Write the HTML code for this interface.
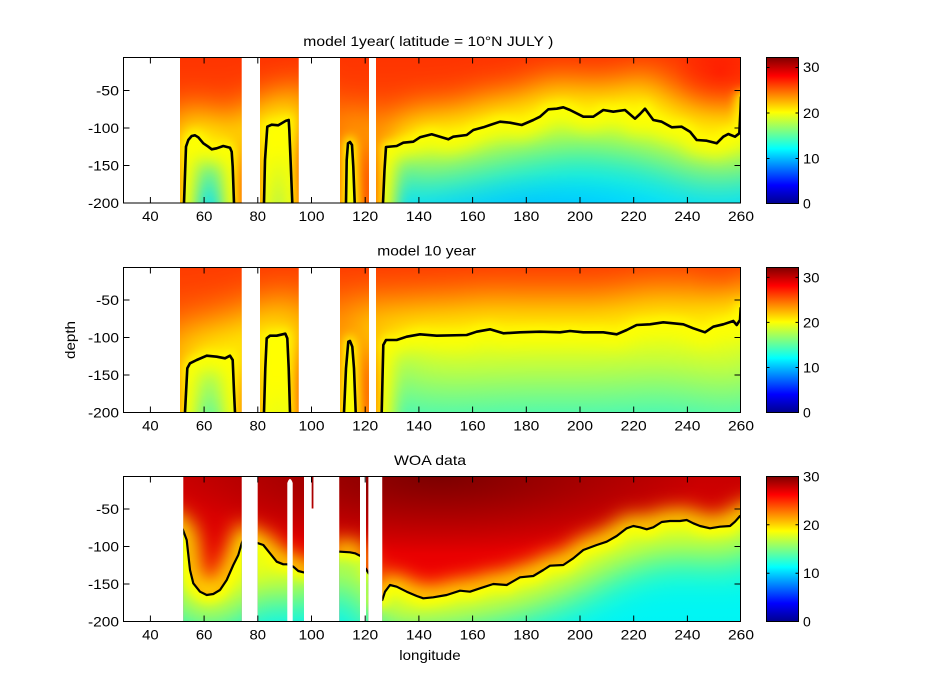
<!DOCTYPE html>
<html><head><meta charset="utf-8"><style>html,body{margin:0;padding:0;background:#fff}svg{display:block}</style></head>
<body>
<svg width="949" height="698" viewBox="0 0 949 698" xmlns="http://www.w3.org/2000/svg" xmlns:xlink="http://www.w3.org/1999/xlink" font-family="'Liberation Sans', Arial, sans-serif" font-size="14">
<defs>
<filter id="b5" filterUnits="userSpaceOnUse" x="0" y="0" width="949" height="698"><feGaussianBlur stdDeviation="5"/></filter>
<filter id="b8" filterUnits="userSpaceOnUse" x="0" y="0" width="949" height="698"><feGaussianBlur stdDeviation="8"/></filter>
<filter id="b10" filterUnits="userSpaceOnUse" x="0" y="0" width="949" height="698"><feGaussianBlur stdDeviation="10"/></filter>
<filter id="b18" filterUnits="userSpaceOnUse" x="0" y="0" width="949" height="698"><feGaussianBlur stdDeviation="18"/></filter>
<filter id="b22" filterUnits="userSpaceOnUse" x="0" y="0" width="949" height="698"><feGaussianBlur stdDeviation="22"/></filter>
<filter id="b25" filterUnits="userSpaceOnUse" x="0" y="0" width="949" height="698"><feGaussianBlur stdDeviation="25"/></filter>
<filter id="b35" filterUnits="userSpaceOnUse" x="0" y="0" width="949" height="698"><feGaussianBlur stdDeviation="35"/></filter>

<linearGradient id="jet" x1="0" y1="1" x2="0" y2="0">
<stop offset="0" stop-color="#00008f"/><stop offset="0.125" stop-color="#0000ff"/><stop offset="0.375" stop-color="#00ffff"/><stop offset="0.625" stop-color="#ffff00"/><stop offset="0.875" stop-color="#ff0000"/><stop offset="1" stop-color="#800000"/>
</linearGradient>
<linearGradient id="w1" gradientUnits="userSpaceOnUse" x1="0" y1="57.5" x2="0" y2="203"><stop offset="0" stop-color="#ff3400"/><stop offset="1" stop-color="#ff5a00"/></linearGradient>
<linearGradient id="w2" gradientUnits="userSpaceOnUse" x1="0" y1="267.5" x2="0" y2="412.5"><stop offset="0" stop-color="#ff3c00"/><stop offset="1" stop-color="#ff6e00"/></linearGradient>
<linearGradient id="w3" gradientUnits="userSpaceOnUse" x1="0" y1="476.5" x2="0" y2="621.5"><stop offset="0" stop-color="#c80000"/><stop offset="0.4" stop-color="#e00000"/><stop offset="0.75" stop-color="#f50000"/><stop offset="1" stop-color="#ff2000"/></linearGradient>
<linearGradient id="c1" gradientUnits="userSpaceOnUse" x1="0" y1="100" x2="0" y2="203"><stop offset="0" stop-color="#00ffdc"/><stop offset="1" stop-color="#00e0ff"/></linearGradient>
<linearGradient id="c2" gradientUnits="userSpaceOnUse" x1="0" y1="320" x2="0" y2="412.5"><stop offset="0" stop-color="#3cffc3"/><stop offset="1" stop-color="#30f8d0"/></linearGradient>
<linearGradient id="c3" gradientUnits="userSpaceOnUse" x1="0" y1="510" x2="0" y2="621.5"><stop offset="0" stop-color="#00ffe6"/><stop offset="1" stop-color="#00f5f5"/></linearGradient>
<radialGradient id="dk" gradientUnits="userSpaceOnUse" cx="440" cy="476" r="260" gradientTransform="translate(440 476) scale(1 0.3) translate(-440 -476)"><stop offset="0" stop-color="#6e0000" stop-opacity="0.85"/><stop offset="1" stop-color="#6e0000" stop-opacity="0"/></radialGradient>
<radialGradient id="bl" gradientUnits="userSpaceOnUse" cx="540" cy="212" r="130" gradientTransform="translate(540 212) scale(1 0.3) translate(-540 -212)"><stop offset="0" stop-color="#0090ff" stop-opacity="0.35"/><stop offset="1" stop-color="#0090ff" stop-opacity="0"/></radialGradient>
<radialGradient id="rs1" gradientUnits="userSpaceOnUse" cx="720" cy="72" r="45"><stop offset="0" stop-color="#ff0c00" stop-opacity="0.6"/><stop offset="1" stop-color="#ff0c00" stop-opacity="0"/></radialGradient>
<radialGradient id="rs2" gradientUnits="userSpaceOnUse" cx="725" cy="282" r="35"><stop offset="0" stop-color="#ff1400" stop-opacity="0.5"/><stop offset="1" stop-color="#ff1400" stop-opacity="0"/></radialGradient>

<clipPath id="cp1"><rect x="180" y="57.5" width="61.7" height="145.5"/><rect x="260" y="57.5" width="38.7" height="145.5"/><rect x="340" y="57.5" width="29" height="145.5"/><rect x="376" y="57.5" width="365" height="145.5"/></clipPath>
<clipPath id="cp2"><rect x="180" y="267.5" width="61.7" height="145"/><rect x="260" y="267.5" width="38.7" height="145"/><rect x="340" y="267.5" width="29" height="145"/><rect x="376" y="267.5" width="365" height="145"/></clipPath>
<clipPath id="cp3"><rect x="183.3" y="476.5" width="58.4" height="145"/><rect x="257.7" y="476.5" width="46.3" height="145"/><rect x="311.7" y="476.5" width="1.7" height="32"/><rect x="339.3" y="476.5" width="20.7" height="145"/><rect x="366" y="476.5" width="2.3" height="145"/><rect x="382.3" y="476.5" width="358.7" height="145"/></clipPath>

<clipPath id="cc1">
<polygon points="184,203 186,146.7 188.3,140 191.7,136 195,135.3 198.3,137.3 203.3,143.3 208.3,146.7 211.7,149.3 216.7,148.3 223.3,146 230,147.7 231.7,151.7 232.7,166.7 234,203"/>
<polygon points="264,203 265,160 267.3,126.7 271.7,124.7 278.3,125.3 281.7,123.3 286,120.7 288.7,120 289.3,130 290.7,163.3 292.3,203"/>
<polygon points="346,203 346.7,160 348,143.3 350,142 352,145 353.3,166.7 354.7,203"/>
<polygon points="383,203 384.5,170 386,147 396.7,146 403.3,142.7 413.3,141.7 420,137.3 431.7,134.3 440,136.7 448.3,139.3 453.3,136.7 466.7,135 473.3,130 483.3,127.3 490,125 500,121.7 510,122.7 521.7,125 533.3,120 540,116.7 548.3,109.3 556.7,108.7 563.3,107.3 570,110 583.3,116.7 593.3,116.7 603.3,110 613.3,111.7 625,110 635,118.7 640,114 645,108.7 653.3,120 661.7,121.7 671.7,127.3 681.7,126.7 690,131.7 696.7,140 706.7,140.7 716.7,143.3 723.3,136.7 728.3,134 735,136.7 739.3,133.3 740.5,110 741,97 742,97 742,203"/>
</clipPath>
<clipPath id="cc2">
<polygon points="185,412.5 187.3,368.3 190,363.3 196.7,360 206.7,355.7 216.7,356.7 225,358.3 230,355.7 232.7,360 234,391.7 235,412.5"/>
<polygon points="264,412.5 265.3,368.3 266.7,338.3 270,335.7 276.7,335.7 285.3,333.7 287.3,338.3 288.7,368.3 290,412.5"/>
<polygon points="344,412.5 346,368.3 348.3,341.7 350,341 352.3,346.7 354,368.3 355.7,412.5"/>
<polygon points="381.7,412.5 383.3,345 386,340 396.7,340 406.7,336.7 420,334.3 436.7,335.7 466.7,335 476.7,331.7 490,329.3 503.3,333.3 520,332.3 540,331.7 560,332.3 570,331 583.3,332.3 603.3,332.3 616.7,334.3 626.7,330 636.7,325 650,324.3 663.3,322.3 683.3,324.3 693.3,328.3 705,332.3 713.3,326.7 723.3,324.3 733.3,321 736.7,325 740,320 740.7,308 742,308 742,412.5"/>
</clipPath>
<clipPath id="cc3">
<polygon points="182,529.3 182.7,529.3 186.7,540 190,570 193.3,583.3 200,591.7 206.7,595 213.3,594 220,590 226.7,580 233.3,565 238.3,555 241.7,543.3 243,543.3 243,622 182,622"/>
<polygon points="257,543.3 258.3,543.3 263.3,545 270,553.3 276.7,561.7 283.3,564.3 287.3,564.3 293.3,566.7 298.3,571 303.3,572.3 305,572.3 305,622 257,622"/>
<polygon points="339,551.7 340,551.7 350,552.3 355,553.3 360,555.7 361,556 361,622 339,622"/>
<polygon points="365,569 366,569 368,572.3 369,572.3 369,622 365,622"/>
<polygon points="381.5,600 382.3,600 385,591.7 390,585 396.7,586.7 406.7,591.7 416.7,596 423.3,598.3 433.3,597.3 446.7,595 460,590.7 470,591.7 480,588.3 493.3,584 506.7,585 520,577.3 533.3,576 543.3,570 550,565.7 563.3,565 573.3,558.3 583.3,550 596.7,545 606.7,541.7 616.7,536 626.7,528.3 633.3,526 640,527.3 646.7,529.3 653.3,527.3 661.7,522 670,521 680,521 686.7,520 693.3,523.3 700,526 710,528.3 720,526.7 730,526 735,521.7 740,516 742,514 742,622 381.5,622"/>
</clipPath>

<path id="k1" d="M184,260 L184,203 186,146.7 188.3,140 191.7,136 195,135.3 198.3,137.3 203.3,143.3 208.3,146.7 211.7,149.3 216.7,148.3 223.3,146 230,147.7 231.7,151.7 232.7,166.7 234,203 235,260 M264,260 L264,203 265,160 267.3,126.7 271.7,124.7 278.3,125.3 281.7,123.3 286,120.7 288.7,120 289.3,130 290.7,163.3 292.3,203 293,260 M346,260 L346,203 346.7,160 348,143.3 350,142 352,145 353.3,166.7 354.7,203 355,260 M383,260 L383,203 384.5,170 386,147 396.7,146 403.3,142.7 413.3,141.7 420,137.3 431.7,134.3 440,136.7 448.3,139.3 453.3,136.7 466.7,135 473.3,130 483.3,127.3 490,125 500,121.7 510,122.7 521.7,125 533.3,120 540,116.7 548.3,109.3 556.7,108.7 563.3,107.3 570,110 583.3,116.7 593.3,116.7 603.3,110 613.3,111.7 625,110 635,118.7 640,114 645,108.7 653.3,120 661.7,121.7 671.7,127.3 681.7,126.7 690,131.7 696.7,140 706.7,140.7 716.7,143.3 723.3,136.7 728.3,134 735,136.7 739.3,133.3 740.5,110 741,97 760,95"/>
<path id="k1t" d="M186,150 L186,146.7 188.3,140 191.7,136 195,135.3 198.3,137.3 203.3,143.3 208.3,146.7 211.7,149.3 216.7,148.3 223.3,146 230,147.7 231.7,151.7 M265.5,150 L267.3,126.7 271.7,124.7 278.3,125.3 281.7,123.3 286,120.7 288.7,120 289.3,130 M348,143.3 L350,142 352,145 M386,147 L396.7,146 403.3,142.7 413.3,141.7 420,137.3 431.7,134.3 440,136.7 448.3,139.3 453.3,136.7 466.7,135 473.3,130 483.3,127.3 490,125 500,121.7 510,122.7 521.7,125 533.3,120 540,116.7 548.3,109.3 556.7,108.7 563.3,107.3 570,110 583.3,116.7 593.3,116.7 603.3,110 613.3,111.7 625,110 635,118.7 640,114 645,108.7 653.3,120 661.7,121.7 671.7,127.3 681.7,126.7 690,131.7 696.7,140 706.7,140.7 716.7,143.3 723.3,136.7 728.3,134 735,136.7 739.3,133.3 790,133"/>
<path id="k2" d="M185,470 L185,412.5 187.3,368.3 190,363.3 196.7,360 206.7,355.7 216.7,356.7 225,358.3 230,355.7 232.7,360 234,391.7 235,412.5 235,470 M264,470 L264,412.5 265.3,368.3 266.7,338.3 270,335.7 276.7,335.7 285.3,333.7 287.3,338.3 288.7,368.3 290,412.5 290,470 M344,470 L344,412.5 346,368.3 348.3,341.7 350,341 352.3,346.7 354,368.3 355.7,412.5 356,470 M381.7,470 L381.7,412.5 383.3,345 386,340 396.7,340 406.7,336.7 420,334.3 436.7,335.7 466.7,335 476.7,331.7 490,329.3 503.3,333.3 520,332.3 540,331.7 560,332.3 570,331 583.3,332.3 603.3,332.3 616.7,334.3 626.7,330 636.7,325 650,324.3 663.3,322.3 683.3,324.3 693.3,328.3 705,332.3 713.3,326.7 723.3,324.3 733.3,321 736.7,325 740,320 740.7,308 760,306"/>
<path id="k2t" d="M187.3,372 L187.3,368.3 190,363.3 196.7,360 206.7,355.7 216.7,356.7 225,358.3 230,355.7 232.7,360 233.5,375 M266,350 L266.7,338.3 270,335.7 276.7,335.7 285.3,333.7 287.3,338.3 288,350 M348.3,341.7 L350,341 352.3,346.7 M383.3,345 L386,340 396.7,340 406.7,336.7 420,334.3 436.7,335.7 466.7,335 476.7,331.7 490,329.3 503.3,333.3 520,332.3 540,331.7 560,332.3 570,331 583.3,332.3 603.3,332.3 616.7,334.3 626.7,330 636.7,325 650,324.3 663.3,322.3 683.3,324.3 693.3,328.3 705,332.3 713.3,326.7 723.3,324.3 733.3,321 736.7,325 740,320 790,318"/>
<path id="k3" d="M160,515 L182.7,529.3 186.7,540 190,570 193.3,583.3 200,591.7 206.7,595 213.3,594 220,590 226.7,580 233.3,565 238.3,555 241.7,543.3 248,528 M250,541 L258.3,543.3 263.3,545 270,553.3 276.7,561.7 283.3,564.3 287.3,564.3 293.3,566.7 298.3,571 303.3,572.3 320,575 M330,551.5 L340,551.7 350,552.3 355,553.3 360,555.7 364,558 M365,568 L366,569 368,572.3 369,574 M370,602 L382.3,600 385,591.7 390,585 396.7,586.7 406.7,591.7 416.7,596 423.3,598.3 433.3,597.3 446.7,595 460,590.7 470,591.7 480,588.3 493.3,584 506.7,585 520,577.3 533.3,576 543.3,570 550,565.7 563.3,565 573.3,558.3 583.3,550 596.7,545 606.7,541.7 616.7,536 626.7,528.3 633.3,526 640,527.3 646.7,529.3 653.3,527.3 661.7,522 670,521 680,521 686.7,520 693.3,523.3 700,526 710,528.3 720,526.7 730,526 735,521.7 740,516 780,505"/>
</defs>

<rect width="949" height="698" fill="#fff"/>

<!-- Panel 1 -->
<g clip-path="url(#cp1)">
<rect x="123.5" y="57.5" width="617.5" height="145.5" fill="url(#w1)"/>
<rect x="123.5" y="57.5" width="617.5" height="145.5" fill="url(#rs1)"/>
<use xlink:href="#k1t" href="#k1t" fill="none" stroke="#ffff00" stroke-width="50" filter="url(#b18)"/>
<use xlink:href="#k1" href="#k1" fill="none" stroke="#ffff00" stroke-width="10" filter="url(#b5)"/>
<g clip-path="url(#cc1)">
<rect x="123.5" y="57.5" width="618" height="146" fill="url(#c1)"/>
<rect x="123.5" y="57.5" width="618" height="146" fill="url(#bl)"/>
<use xlink:href="#k1t" href="#k1t" fill="none" stroke="#ffff00" stroke-width="60" filter="url(#b25)"/>
<use xlink:href="#k1" href="#k1" fill="none" stroke="#ffff00" stroke-width="24" filter="url(#b8)"/>
</g>
<use xlink:href="#k1" href="#k1" fill="none" stroke="#000" stroke-width="2.6" stroke-linejoin="round"/>
</g>

<!-- Panel 2 -->
<g clip-path="url(#cp2)">
<rect x="123.5" y="267.5" width="617.5" height="145" fill="url(#w2)"/>
<rect x="123.5" y="267.5" width="617.5" height="145" fill="url(#rs2)"/>
<use xlink:href="#k2t" href="#k2t" fill="none" stroke="#ffff00" stroke-width="60" filter="url(#b22)"/>
<use xlink:href="#k2" href="#k2" fill="none" stroke="#ffff00" stroke-width="10" filter="url(#b5)"/>
<g clip-path="url(#cc2)">
<rect x="123.5" y="267.5" width="618" height="146" fill="url(#c2)"/>
<use xlink:href="#k2t" href="#k2t" fill="none" stroke="#ffff00" stroke-width="100" filter="url(#b35)"/>
<use xlink:href="#k2" href="#k2" fill="none" stroke="#ffff00" stroke-width="24" filter="url(#b8)"/>
</g>
<use xlink:href="#k2" href="#k2" fill="none" stroke="#000" stroke-width="2.6" stroke-linejoin="round"/>
</g>

<!-- Panel 3 -->
<g clip-path="url(#cp3)">
<rect x="123.5" y="476.5" width="617.5" height="145" fill="url(#w3)"/>
<rect x="123.5" y="476.5" width="617.5" height="145" fill="url(#dk)"/>
<use xlink:href="#k3" href="#k3" fill="none" stroke="#ffff00" stroke-width="20" filter="url(#b10)"/>
<g clip-path="url(#cc3)">
<rect x="123.5" y="476.5" width="618" height="146" fill="url(#c3)"/>
<use xlink:href="#k3" href="#k3" fill="none" stroke="#ffff00" stroke-width="60" filter="url(#b22)"/>
<use xlink:href="#k3" href="#k3" fill="none" stroke="#ffff00" stroke-width="14" filter="url(#b5)"/>
</g>
<use xlink:href="#k3" href="#k3" fill="none" stroke="#000" stroke-width="2.2" stroke-linejoin="round"/>
</g>
<path d="M287.3,622 L287.3,483 Q290,475 292.7,483 L292.7,622 Z" fill="#fff"/>

<!-- Axes boxes and ticks -->
<g fill="none" stroke="#000" stroke-width="1">
<rect x="123.5" y="57.5" width="617" height="145.5"/>
<rect x="123.5" y="267.5" width="617" height="145"/>
<rect x="123.5" y="476.5" width="617" height="145"/>
<path d="M150.4 203v-6M150.4 57.5v6M204.1 203v-6M204.1 57.5v6M257.8 203v-6M257.8 57.5v6M311.5 203v-6M311.5 57.5v6M365.2 203v-6M365.2 57.5v6M418.9 203v-6M418.9 57.5v6M472.6 203v-6M472.6 57.5v6M526.3 203v-6M526.3 57.5v6M580 203v-6M580 57.5v6M633.7 203v-6M633.7 57.5v6M687.4 203v-6M687.4 57.5v6M123.5 90.5h6M740.5 90.5h-6M123.5 128h6M740.5 128h-6M123.5 165.5h6M740.5 165.5h-6"/>
<path d="M150.4 412.5v-6M150.4 267.5v6M204.1 412.5v-6M204.1 267.5v6M257.8 412.5v-6M257.8 267.5v6M311.5 412.5v-6M311.5 267.5v6M365.2 412.5v-6M365.2 267.5v6M418.9 412.5v-6M418.9 267.5v6M472.6 412.5v-6M472.6 267.5v6M526.3 412.5v-6M526.3 267.5v6M580 412.5v-6M580 267.5v6M633.7 412.5v-6M633.7 267.5v6M687.4 412.5v-6M687.4 267.5v6M123.5 300h6M740.5 300h-6M123.5 337.5h6M740.5 337.5h-6M123.5 375h6M740.5 375h-6"/>
<path d="M150.4 621.5v-6M150.4 476.5v6M204.1 621.5v-6M204.1 476.5v6M257.8 621.5v-6M257.8 476.5v6M311.5 621.5v-6M311.5 476.5v6M365.2 621.5v-6M365.2 476.5v6M418.9 621.5v-6M418.9 476.5v6M472.6 621.5v-6M472.6 476.5v6M526.3 621.5v-6M526.3 476.5v6M580 621.5v-6M580 476.5v6M633.7 621.5v-6M633.7 476.5v6M687.4 621.5v-6M687.4 476.5v6M123.5 509h6M740.5 509h-6M123.5 546.5h6M740.5 546.5h-6M123.5 584h6M740.5 584h-6"/>
</g>

<!-- Colorbars -->
<rect x="766.5" y="57.5" width="32" height="146" fill="url(#jet)" stroke="#000" stroke-width="1"/>
<rect x="766.5" y="267.5" width="32" height="145" fill="url(#jet)" stroke="#000" stroke-width="1"/>
<rect x="766.5" y="476.5" width="32" height="145" fill="url(#jet)" stroke="#000" stroke-width="1"/>
<g fill="none" stroke="#000" stroke-width="1">
<path d="M798.5 67.5h-3M798.5 113h-3M798.5 158.5h-3M766.5 67.5h3M766.5 113h3M766.5 158.5h3"/>
<path d="M798.5 277.4h-3M798.5 322.4h-3M798.5 367.5h-3M766.5 277.4h3M766.5 322.4h3M766.5 367.5h3"/>
<path d="M798.5 524.8h-3M798.5 573.2h-3M766.5 524.8h3M766.5 573.2h3"/>
</g>

<!-- Tick labels -->
<g fill="#000" text-anchor="middle">
<text x="150.4" y="221" textLength="16.5" lengthAdjust="spacingAndGlyphs">40</text>
<text x="204.1" y="221" textLength="16.5" lengthAdjust="spacingAndGlyphs">60</text>
<text x="257.8" y="221" textLength="16.5" lengthAdjust="spacingAndGlyphs">80</text>
<text x="311.5" y="221" textLength="26" lengthAdjust="spacingAndGlyphs">100</text>
<text x="365.2" y="221" textLength="26" lengthAdjust="spacingAndGlyphs">120</text>
<text x="418.9" y="221" textLength="26" lengthAdjust="spacingAndGlyphs">140</text>
<text x="472.6" y="221" textLength="26" lengthAdjust="spacingAndGlyphs">160</text>
<text x="526.3" y="221" textLength="26" lengthAdjust="spacingAndGlyphs">180</text>
<text x="580" y="221" textLength="26" lengthAdjust="spacingAndGlyphs">200</text>
<text x="633.7" y="221" textLength="26" lengthAdjust="spacingAndGlyphs">220</text>
<text x="687.4" y="221" textLength="26" lengthAdjust="spacingAndGlyphs">240</text>
<text x="741" y="221" textLength="26" lengthAdjust="spacingAndGlyphs">260</text>

<text x="150.4" y="430.5" textLength="16.5" lengthAdjust="spacingAndGlyphs">40</text>
<text x="204.1" y="430.5" textLength="16.5" lengthAdjust="spacingAndGlyphs">60</text>
<text x="257.8" y="430.5" textLength="16.5" lengthAdjust="spacingAndGlyphs">80</text>
<text x="311.5" y="430.5" textLength="26" lengthAdjust="spacingAndGlyphs">100</text>
<text x="365.2" y="430.5" textLength="26" lengthAdjust="spacingAndGlyphs">120</text>
<text x="418.9" y="430.5" textLength="26" lengthAdjust="spacingAndGlyphs">140</text>
<text x="472.6" y="430.5" textLength="26" lengthAdjust="spacingAndGlyphs">160</text>
<text x="526.3" y="430.5" textLength="26" lengthAdjust="spacingAndGlyphs">180</text>
<text x="580" y="430.5" textLength="26" lengthAdjust="spacingAndGlyphs">200</text>
<text x="633.7" y="430.5" textLength="26" lengthAdjust="spacingAndGlyphs">220</text>
<text x="687.4" y="430.5" textLength="26" lengthAdjust="spacingAndGlyphs">240</text>
<text x="741" y="430.5" textLength="26" lengthAdjust="spacingAndGlyphs">260</text>

<text x="150.4" y="639.5" textLength="16.5" lengthAdjust="spacingAndGlyphs">40</text>
<text x="204.1" y="639.5" textLength="16.5" lengthAdjust="spacingAndGlyphs">60</text>
<text x="257.8" y="639.5" textLength="16.5" lengthAdjust="spacingAndGlyphs">80</text>
<text x="311.5" y="639.5" textLength="26" lengthAdjust="spacingAndGlyphs">100</text>
<text x="365.2" y="639.5" textLength="26" lengthAdjust="spacingAndGlyphs">120</text>
<text x="418.9" y="639.5" textLength="26" lengthAdjust="spacingAndGlyphs">140</text>
<text x="472.6" y="639.5" textLength="26" lengthAdjust="spacingAndGlyphs">160</text>
<text x="526.3" y="639.5" textLength="26" lengthAdjust="spacingAndGlyphs">180</text>
<text x="580" y="639.5" textLength="26" lengthAdjust="spacingAndGlyphs">200</text>
<text x="633.7" y="639.5" textLength="26" lengthAdjust="spacingAndGlyphs">220</text>
<text x="687.4" y="639.5" textLength="26" lengthAdjust="spacingAndGlyphs">240</text>
<text x="741" y="639.5" textLength="26" lengthAdjust="spacingAndGlyphs">260</text>
</g>

<g fill="#000" text-anchor="end">
<text x="119" y="95.5" textLength="23" lengthAdjust="spacingAndGlyphs">-50</text>
<text x="119" y="133" textLength="31" lengthAdjust="spacingAndGlyphs">-100</text>
<text x="119" y="170.5" textLength="31" lengthAdjust="spacingAndGlyphs">-150</text>
<text x="119" y="208" textLength="31" lengthAdjust="spacingAndGlyphs">-200</text>

<text x="119" y="305" textLength="23" lengthAdjust="spacingAndGlyphs">-50</text>
<text x="119" y="342.5" textLength="31" lengthAdjust="spacingAndGlyphs">-100</text>
<text x="119" y="380" textLength="31" lengthAdjust="spacingAndGlyphs">-150</text>
<text x="119" y="417.5" textLength="31" lengthAdjust="spacingAndGlyphs">-200</text>

<text x="119" y="514" textLength="23" lengthAdjust="spacingAndGlyphs">-50</text>
<text x="119" y="551.5" textLength="31" lengthAdjust="spacingAndGlyphs">-100</text>
<text x="119" y="589" textLength="31" lengthAdjust="spacingAndGlyphs">-150</text>
<text x="119" y="626.5" textLength="31" lengthAdjust="spacingAndGlyphs">-200</text>
</g>

<g fill="#000">
<text x="803" y="72" textLength="16.5" lengthAdjust="spacingAndGlyphs">30</text>
<text x="803" y="118" textLength="16.5" lengthAdjust="spacingAndGlyphs">20</text>
<text x="803" y="163.5" textLength="16.5" lengthAdjust="spacingAndGlyphs">10</text>
<text x="803" y="208.5">0</text>

<text x="803" y="282.4" textLength="16.5" lengthAdjust="spacingAndGlyphs">30</text>
<text x="803" y="327.4" textLength="16.5" lengthAdjust="spacingAndGlyphs">20</text>
<text x="803" y="372.5" textLength="16.5" lengthAdjust="spacingAndGlyphs">10</text>
<text x="803" y="417.5">0</text>

<text x="803" y="481.5" textLength="16.5" lengthAdjust="spacingAndGlyphs">30</text>
<text x="803" y="529.8" textLength="16.5" lengthAdjust="spacingAndGlyphs">20</text>
<text x="803" y="578.2" textLength="16.5" lengthAdjust="spacingAndGlyphs">10</text>
<text x="803" y="626.5">0</text>
</g>

<!-- Titles and axis labels -->
<g fill="#000">
<text x="303.3" y="46" textLength="250" lengthAdjust="spacingAndGlyphs">model 1year( latitude = 10°N JULY )</text>
<text x="377.3" y="255.7" textLength="98.7" lengthAdjust="spacingAndGlyphs">model 10 year</text>
<text x="394" y="465" textLength="72" lengthAdjust="spacingAndGlyphs">WOA data</text>
<text x="399.3" y="660" textLength="61.3" lengthAdjust="spacingAndGlyphs">longitude</text>
<text transform="translate(75 340) rotate(-90)" x="0" y="0" text-anchor="middle" textLength="38" lengthAdjust="spacingAndGlyphs">depth</text>
</g>
</svg>
</body></html>
